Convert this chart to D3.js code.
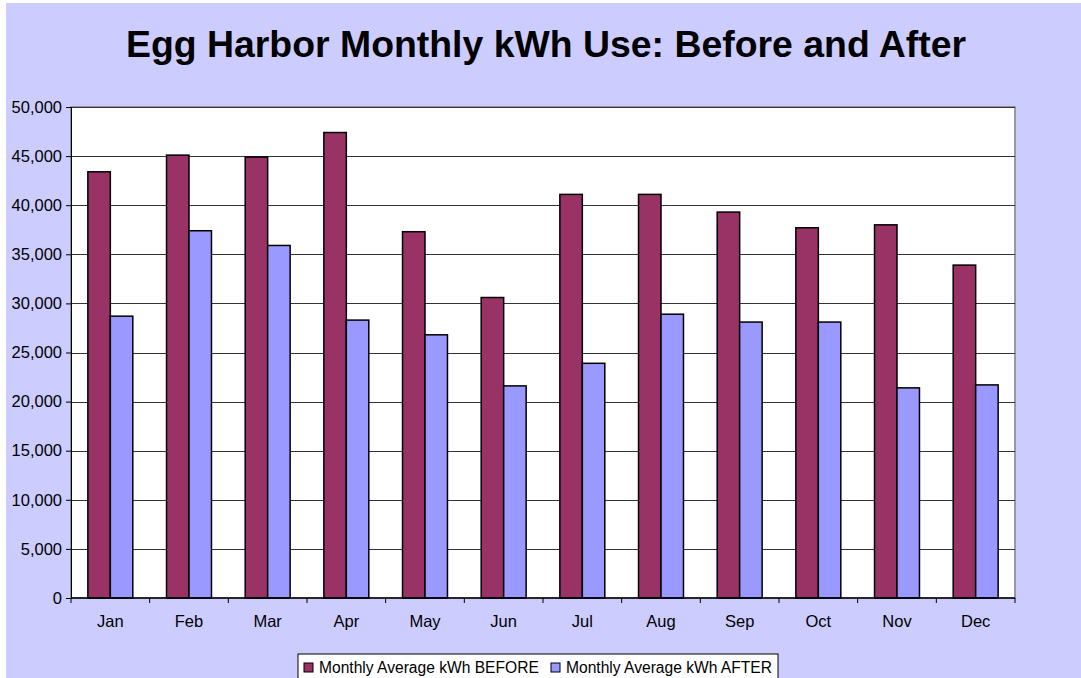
<!DOCTYPE html>
<html>
<head>
<meta charset="utf-8">
<script src="https://cdn.jsdelivr.net/npm/d3@7"></script>
<style>
  body { margin: 0; background: #fff; }
  text { font-family: "Liberation Sans", Arial, sans-serif; }
</style>
</head>
<body>
<div id="chart"></div>
<script>
// monthly kWh
const months = ["Jan","Feb","Mar","Apr","May","Jun","Jul","Aug","Sep","Oct","Nov","Dec"];
const before = [43400, 45100, 44900, 47400, 37300, 30600, 41100, 41100, 39300, 37700, 38000, 33900];
const after  = [28700, 37400, 35900, 28300, 26800, 21600, 23900, 28900, 28100, 28100, 21400, 21700];
const seriesNames = ["Monthly Average kWh BEFORE", "Monthly Average kWh AFTER"];
const seriesColors = ["#993366", "#9999FF"];
const yTicks = [0, 5000, 10000, 15000, 20000, 25000, 30000, 35000, 40000, 45000, 50000];

var W = 1081, H = 678;
var margin = {top: 107, right: 66, bottom: 80, left: 71},
    width = W - margin.left - margin.right,
    height = H - margin.top - margin.bottom;

let svg = d3.select("#chart").append("svg")
    .attr("width", W)
    .attr("height", H);

// background
svg.append("rect")
    .attr("x", 6).attr("y", 3)
    .attr("width", W - 6).attr("height", H - 3)
    .attr("fill", "#CCCCFF");

svg.append("text")
    .attr("x", 546).attr("y", 57)
    .attr("text-anchor", "middle")
    .style("font-size", "37.4px")
    .style("font-weight", "bold")
    .text("Egg Harbor Monthly kWh Use: Before and After");

let g = svg.append("g")
    .attr("transform", "translate(" + margin.left + "," + margin.top + ")");

let xScale = d3.scaleBand()
    .domain(months)
    .range([0, width]);

let yScale = d3.scaleLinear()
    .domain([0, 50000])
    .range([height, 0]);

// plot area
g.append("rect")
    .attr("width", width).attr("height", height)
    .attr("fill", "#fff")
    .attr("stroke", "#808080")
    .attr("stroke-width", 1.5);

// gridlines
g.append("g").selectAll("line")
    .data(yTicks.slice(1))
    .enter().append("line")
    .attr("x1", 0).attr("x2", width)
    .attr("y1", d => Math.round(yScale(d)) + 0.5)
    .attr("y2", d => Math.round(yScale(d)) + 0.5)
    .attr("stroke", "#333")
    .attr("stroke-width", 1);

// bars, gap width 150% like excel
let bw = xScale.bandwidth() / 3.5;
let groups = g.append("g").selectAll("g")
    .data(months)
    .enter().append("g")
    .attr("transform", d => "translate(" + xScale(d) + ",0)");

[before, after].forEach(function(vals, s) {
    groups.append("rect")
        .attr("x", (d, i) => bw * 0.75 + s * bw)
        .attr("y", (d, i) => yScale(vals[i]))
        .attr("width", bw)
        .attr("height", (d, i) => height - yScale(vals[i]))
        .attr("fill", seriesColors[s])
        .attr("stroke", "#000")
        .attr("stroke-width", 1.5);
});

// y axis
let yAxis = d3.axisLeft(yScale)
    .tickValues(yTicks)
    .tickSize(5)
    .tickFormat(d3.format(","));
let ya = g.append("g").call(yAxis);
ya.select(".domain").attr("stroke", "#000");
ya.selectAll("text").style("font-size", "16.5px").attr("fill", "#000").attr("x", -9);

// x axis: ticks between categories
let xa = g.append("g").attr("transform", "translate(0," + height + ")");
xa.append("line").attr("x1", 0).attr("x2", width).attr("stroke", "#000").attr("stroke-width", 1.5);
xa.selectAll("line.tk")
    .data(d3.range(months.length + 1))
    .enter().append("line")
    .attr("class", "tk")
    .attr("x1", i => i * xScale.step()).attr("x2", i => i * xScale.step())
    .attr("y1", 0).attr("y2", 5)
    .attr("stroke", "#000");
xa.selectAll("text")
    .data(months)
    .enter().append("text")
    .attr("x", d => xScale(d) + xScale.bandwidth() / 2)
    .attr("y", 29)
    .attr("text-anchor", "middle")
    .style("font-size", "16.5px")
    .text(d => d);

// legend
let lg = svg.append("g").attr("transform", "translate(298,654)");
lg.append("rect")
    .attr("width", 480).attr("height", 30)
    .attr("fill", "#fff").attr("stroke", "#000");
let lx = [6, 253];
seriesNames.forEach(function(n, i) {
    lg.append("rect")
        .attr("x", lx[i]).attr("y", 9)
        .attr("width", 9).attr("height", 9)
        .attr("fill", seriesColors[i]).attr("stroke", "#000");
    lg.append("text")
        .attr("x", lx[i] + 15).attr("y", 19)
        .style("font-size", "15.6px")
        .text(n);
});
</script>
</body>
</html>
